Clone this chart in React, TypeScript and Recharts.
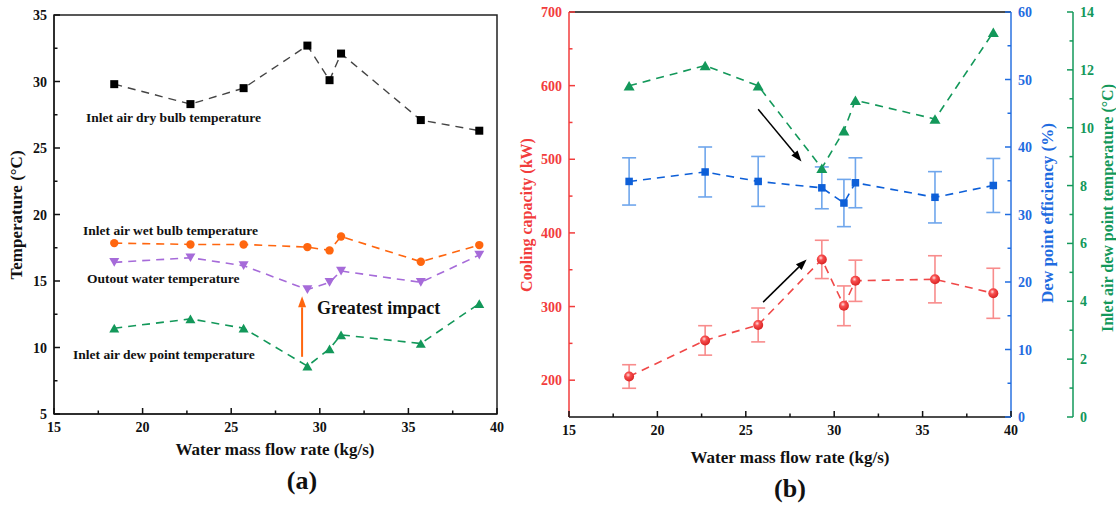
import { ComposedChart, ErrorBar, Line, ReferenceArea, ReferenceLine, XAxis, YAxis } from "recharts";

const FONT = '"Liberation Serif", "Times New Roman", serif';

const flowRate = [18.4, 22.7, 25.7, 29.3, 30.55, 31.2, 35.7, 39.0];
const dryBulb = [29.8, 28.3, 29.5, 32.7, 30.1, 32.1, 27.1, 26.3];
const wetBulb = [17.85, 17.75, 17.75, 17.55, 17.3, 18.35, 16.45, 17.7];
const outletWater = [16.4, 16.75, 16.15, 14.35, 14.9, 15.75, 14.9, 16.95];
const dewPoint = [11.45, 12.15, 11.45, 8.6, 9.9, 10.95, 10.3, 13.3];
const coolingCapacity = [205, 254, 275, 364, 301, 335, 337, 318];
const coolingErr = [16, 20, 23, 26, 27, 28, 32, 34];
const dewEfficiency = [34.9, 36.3, 34.9, 33.95, 31.7, 34.7, 32.55, 34.3];
const efficiencyErr = [3.5, 3.7, 3.7, 3.1, 3.5, 3.7, 3.8, 4.0];

const xTicks = [15, 17.5, 20, 22.5, 25, 27.5, 30, 32.5, 35, 37.5, 40];
const tempTicks = [5, 7.5, 10, 12.5, 15, 17.5, 20, 22.5, 25, 27.5, 30, 32.5, 35];
const capacityTicks = [200, 250, 300, 350, 400, 450, 500, 550, 600, 650, 700];
const efficiencyTicks = [0, 5, 10, 15, 20, 25, 30, 35, 40, 45, 50, 55, 60];
const dewTicks = [0, 1, 2, 3, 4, 5, 6, 7, 8, 9, 10, 11, 12, 13, 14];

const leftRows = flowRate.map((x, i) => ({
  x,
  dryBulb: dryBulb[i],
  wetBulb: wetBulb[i],
  outletWater: outletWater[i],
  dewPoint: dewPoint[i],
}));

const rightRows = flowRate.map((x, i) => ({
  x,
  capacity: coolingCapacity[i],
  capacityErr: coolingErr[i],
  efficiency: dewEfficiency[i],
  efficiencyErr: efficiencyErr[i],
  dewPoint: dewPoint[i],
}));

const RED = "#f23c3c";
const BLUE = "#0d5fd8";
const GREEN = "#13985a";
const ORANGE = "#ff660f";
const PURPLE = "#a66bd9";

function tickRenderer(side: "left" | "right" | "bottom", color: string, step: number) {
  return (props: any) => {
    const { x, y, payload } = props;
    const v = payload.value as number;
    const major = Math.abs(v / step - Math.round(v / step)) < 1e-6;
    const len = major ? 6 : 3.5;
    const text = { fill: color, fontFamily: FONT, fontWeight: 700, fontSize: 14 };
    if (side === "bottom") {
      return (
        <g>
          <line x1={x} y1={y} x2={x} y2={y - len} stroke={color} strokeWidth={1.5} />
          {major && (
            <text x={x} y={y + 18} textAnchor="middle" {...text}>
              {v}
            </text>
          )}
        </g>
      );
    }
    const dir = side === "left" ? 1 : -1;
    return (
      <g>
        <line x1={x} y1={y} x2={x + dir * len} y2={y} stroke={color} strokeWidth={1.5} />
        {major && (
          <text x={x - dir * 7} y={y + 5} textAnchor={side === "left" ? "end" : "start"} {...text}>
            {v}
          </text>
        )}
      </g>
    );
  };
}

const squareDot = (color: string, size: number) => (p: any) => (
  <rect key={`sq${p.index}`} x={p.cx - size / 2} y={p.cy - size / 2} width={size} height={size} fill={color} />
);

const circleDot = (color: string, r: number) => (p: any) => (
  <circle key={`c${p.index}`} cx={p.cx} cy={p.cy} r={r} fill={color} />
);

const triangleDot = (color: string, w: number, down: boolean) => (p: any) => {
  const h = w * 0.87;
  const s = down ? -1 : 1;
  const pts = `${p.cx},${p.cy - (s * h) / 2} ${p.cx - w / 2},${p.cy + (s * h) / 2} ${p.cx + w / 2},${p.cy + (s * h) / 2}`;
  return <polygon key={`t${p.index}`} points={pts} fill={color} />;
};

const ballDot = (p: any) => <circle key={`b${p.index}`} cx={p.cx} cy={p.cy} r={5} fill="url(#redBall)" />;

function arrowShape(color: string, width: number) {
  return (p: any) => {
    const { x1, y1, x2, y2 } = p;
    const a = Math.atan2(y2 - y1, x2 - x1);
    const head = 11;
    const half = 4;
    const bx = x2 - head * Math.cos(a);
    const by = y2 - head * Math.sin(a);
    const pts = `${x2},${y2} ${bx + half * Math.sin(a)},${by - half * Math.cos(a)} ${bx - half * Math.sin(a)},${by + half * Math.cos(a)}`;
    return (
      <g>
        <line x1={x1} y1={y1} x2={bx} y2={by} stroke={color} strokeWidth={width} />
        <polygon points={pts} fill={color} />
      </g>
    );
  };
}

function TemperatureChart() {
  return (
    <ComposedChart width={520} height={505} data={leftRows} margin={{ top: 15, right: 23, bottom: 61, left: 0 }}>
      <XAxis
        dataKey="x"
        type="number"
        domain={[15, 40]}
        ticks={xTicks}
        interval={0}
        height={30}
        tickSize={0}
        tickMargin={0}
        stroke="#222"
        strokeWidth={1.5}
        tick={tickRenderer("bottom", "#111", 5)}
      />
      <YAxis
        type="number"
        domain={[5, 35]}
        ticks={tempTicks}
        interval={0}
        width={54}
        tickSize={0}
        tickMargin={0}
        stroke="#222"
        strokeWidth={1.5}
        tick={tickRenderer("left", "#111", 5)}
      />
      <ReferenceArea x1={15} x2={40} y1={5} y2={35} fill="none" stroke="#222" strokeWidth={1.5} />
      <Line dataKey="dryBulb" stroke="#444" strokeWidth={1.4} strokeDasharray="8 6" dot={squareDot("#000", 8)} isAnimationActive={false} />
      <Line dataKey="wetBulb" stroke={ORANGE} strokeWidth={1.6} strokeDasharray="8 6" dot={circleDot(ORANGE, 4.2)} isAnimationActive={false} />
      <Line dataKey="outletWater" stroke={PURPLE} strokeWidth={1.6} strokeDasharray="8 6" dot={triangleDot(PURPLE, 10, true)} isAnimationActive={false} />
      <Line dataKey="dewPoint" stroke={GREEN} strokeWidth={1.6} strokeDasharray="8 6" dot={triangleDot(GREEN, 10, false)} isAnimationActive={false} />
      <ReferenceLine
        segment={[{ x: 29.0, y: 9.3 }, { x: 29.0, y: 13.85 }]}
        ifOverflow="visible"
        shape={arrowShape(ORANGE, 2)}
      />
    </ComposedChart>
  );
}

function PerformanceChart() {
  return (
    <ComposedChart width={616} height={505} data={rightRows} margin={{ top: 12, right: 0, bottom: 58, left: 0 }}>
      <XAxis
        dataKey="x"
        type="number"
        domain={[15, 40]}
        ticks={xTicks}
        interval={0}
        height={30}
        tickSize={0}
        tickMargin={0}
        stroke="#111"
        strokeWidth={1.5}
        tick={tickRenderer("bottom", "#111", 5)}
      />
      <YAxis
        yAxisId="cap"
        type="number"
        domain={[150, 700]}
        ticks={capacityTicks}
        interval={0}
        width={69}
        tickSize={0}
        tickMargin={0}
        stroke={RED}
        strokeWidth={1.5}
        tick={tickRenderer("left", RED, 100)}
      />
      <YAxis
        yAxisId="a_eff"
        orientation="right"
        type="number"
        domain={[0, 60]}
        ticks={efficiencyTicks}
        interval={0}
        width={62}
        tickSize={0}
        tickMargin={0}
        stroke="#2a72e0"
        strokeWidth={1.5}
        tick={tickRenderer("right", "#1f6ce0", 10)}
      />
      <YAxis
        yAxisId="b_dew"
        orientation="right"
        type="number"
        domain={[0, 14]}
        ticks={dewTicks}
        interval={0}
        width={43}
        tickSize={0}
        tickMargin={0}
        stroke={GREEN}
        strokeWidth={1.5}
        tick={tickRenderer("right", GREEN, 2)}
      />
      <ReferenceLine yAxisId="cap" y={700} stroke="#111" strokeWidth={1.5} />
      <Line yAxisId="b_dew" dataKey="dewPoint" stroke={GREEN} strokeWidth={1.6} strokeDasharray="8 6" dot={triangleDot(GREEN, 11, false)} isAnimationActive={false} />
      <Line yAxisId="a_eff" dataKey="efficiency" stroke={BLUE} strokeWidth={1.6} strokeDasharray="8 6" dot={squareDot(BLUE, 7.5)} isAnimationActive={false}>
        <ErrorBar dataKey="efficiencyErr" width={7} stroke="#6fa6ec" strokeWidth={1.6} isAnimationActive={false} />
      </Line>
      <Line yAxisId="cap" dataKey="capacity" stroke="#f04848" strokeWidth={1.6} strokeDasharray="8 6" dot={ballDot} isAnimationActive={false}>
        <ErrorBar dataKey="capacityErr" width={7} stroke="#f88c8c" strokeWidth={1.6} isAnimationActive={false} />
      </Line>
      <ReferenceLine
        yAxisId="cap"
        segment={[{ x: 25.7, y: 568 }, { x: 28.15, y: 497 }]}
        ifOverflow="visible"
        shape={arrowShape("#000", 1.5)}
      />
      <ReferenceLine
        yAxisId="cap"
        segment={[{ x: 25.98, y: 306 }, { x: 28.44, y: 364 }]}
        ifOverflow="visible"
        shape={arrowShape("#000", 1.5)}
      />
    </ComposedChart>
  );
}

export default function App() {
  const bold = { fontFamily: FONT, fontWeight: 700 };
  return (
    <div style={{ position: "fixed", left: 0, top: 0, width: 1116, height: 505, background: "#fff", overflow: "hidden" }}>
      <svg width={0} height={0} style={{ position: "absolute" }}>
        <defs>
          <radialGradient id="redBall" cx="40%" cy="35%" r="65%">
            <stop offset="0%" stopColor="#ffe0e0" />
            <stop offset="35%" stopColor="#f85050" />
            <stop offset="100%" stopColor="#d92323" />
          </radialGradient>
        </defs>
      </svg>
      <div style={{ position: "absolute", left: 0, top: 0 }}>
        <TemperatureChart />
      </div>
      <div style={{ position: "absolute", left: 500, top: 0 }}>
        <PerformanceChart />
      </div>
      <svg width={1116} height={505} style={{ position: "absolute", left: 0, top: 0, pointerEvents: "none" }}>
        <g {...bold} fontSize={13.5} fill="#111">
          <text x={86} y={122}>Inlet air dry bulb temperature</text>
          <text x={83} y={235}>Inlet air wet bulb temperature</text>
          <text x={87} y={283}>Outout water temperature</text>
          <text x={73} y={359}>Inlet air dew point temperature</text>
        </g>
        <text x={317} y={314} {...bold} fontSize={18} fill="#111">Greatest impact</text>
        <text transform="translate(22,215) rotate(-90)" textAnchor="middle" {...bold} fontSize={17} fill="#111">
          Temperature (°C)
        </text>
        <text x={275} y={455} textAnchor="middle" {...bold} fontSize={17} fill="#111">
          Water mass flow rate (kg/s)
        </text>
        <text x={302} y={489} textAnchor="middle" {...bold} fontSize={26} fill="#111">
          (a)
        </text>
        <text x={790} y={463} textAnchor="middle" {...bold} fontSize={17} fill="#111">
          Water mass flow rate (kg/s)
        </text>
        <text x={790} y={497} textAnchor="middle" {...bold} fontSize={26} fill="#111">
          (b)
        </text>
        <text transform="translate(532,215) rotate(-90)" textAnchor="middle" {...bold} fontSize={16} fill={RED}>
          Cooling capacity (kW)
        </text>
        <text transform="translate(1053,213) rotate(-90)" textAnchor="middle" {...bold} fontSize={17} fill="#1f6ce0">
          Dew point efficiency (%)
        </text>
        <text transform="translate(1113,208) rotate(-90)" textAnchor="middle" {...bold} fontSize={16} fill={GREEN}>
          Inlet air dew point temperature (°C)
        </text>
      </svg>
    </div>
  );
}
